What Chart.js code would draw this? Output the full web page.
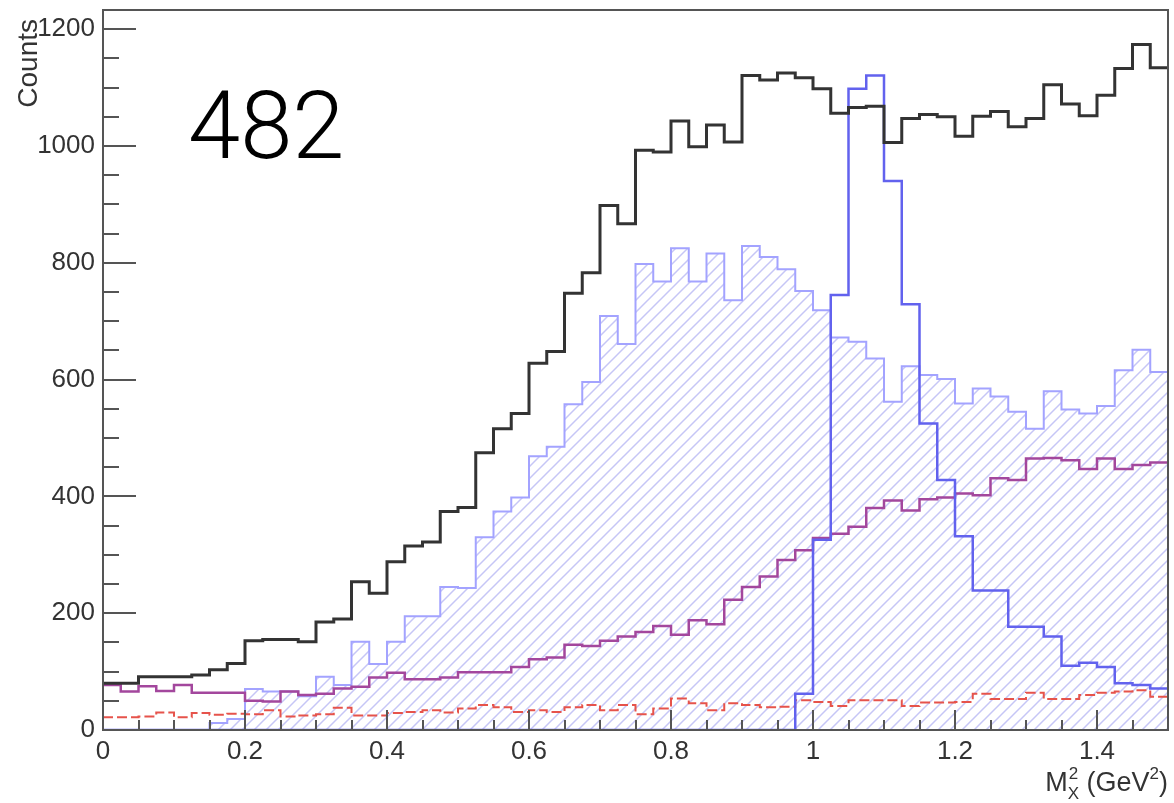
<!DOCTYPE html>
<html>
<head>
<meta charset="utf-8">
<script src="https://cdn.jsdelivr.net/npm/chart.js@4.4.0/dist/chart.umd.min.js"></script>
<style>
  html, body { margin: 0; padding: 0; background: #fff; }
</style>
</head>
<body>
<canvas id="hist" width="1174" height="803"></canvas>
<script>
// 60 bins of 0.025 GeV^2 from 0 to 1.5
const binWidth = 0.025;
const xMax = 1.5;
const yMax = 1233;
const xTicks = [0, 0.2, 0.4, 0.6, 0.8, 1.0, 1.2, 1.4];
const xTickLabels = ['0', '0.2', '0.4', '0.6', '0.8', '1', '1.2', '1.4'];
const yTicks = [0, 200, 400, 600, 800, 1000, 1200];

// measured spectrum (black)
const dataHist = [
  80, 80, 91, 91, 91, 94, 103, 114, 153, 155,
  155, 151, 185, 190, 254, 234, 288, 315, 322, 374,
  381, 475, 516, 542, 628, 648, 748, 783, 898, 867,
  993, 990, 1043, 999, 1036, 1007, 1121, 1113, 1125, 1117,
  1098, 1056, 1066, 1068, 1006, 1047, 1054, 1050, 1017, 1051,
  1059, 1033, 1047, 1105, 1072, 1052, 1087, 1133, 1174, 1134
];

// hatched light-blue histogram
const hatchHist = [
  0, 0, 0, 0, 0, 0, 12, 19, 70, 66,
  66, 58, 91, 77, 151, 113, 151, 195, 195, 245,
  243, 330, 374, 398, 469, 485, 558, 596, 709, 661,
  798, 768, 825, 768, 816, 736, 829, 810, 789, 752,
  719, 672, 665, 636, 562, 623, 608, 601, 559, 585,
  571, 545, 516, 580, 549, 542, 555, 616, 651, 613
];

// narrow peak (dark blue)
const peakHist = [
  0, 0, 0, 0, 0, 0, 0, 0, 0, 0,
  0, 0, 0, 0, 0, 0, 0, 0, 0, 0,
  0, 0, 0, 0, 0, 0, 0, 0, 0, 0,
  0, 0, 0, 0, 0, 0, 0, 0, 0, 62,
  326, 745, 1098, 1121, 940, 729, 525, 428, 332, 239,
  239, 177, 177, 160, 110, 115, 108, 80, 77, 71
];

// purple component
const purpleHist = [
  77, 66, 75, 67, 77, 64, 64, 64, 50, 49,
  66, 60, 62, 71, 74, 90, 98, 87, 87, 90,
  99, 99, 99, 108, 121, 124, 146, 144, 153, 160,
  168, 178, 163, 188, 181, 223, 245, 263, 291, 308,
  329, 336, 348, 380, 393, 376, 395, 398, 405, 402,
  431, 428, 465, 466, 462, 447, 465, 447, 454, 458
];

// red dashed component
const redHist = [
  22, 22, 23, 30, 22, 29, 26, 28, 27, 34,
  23, 25, 27, 38, 25, 25, 29, 31, 34, 30,
  37, 43, 39, 31, 34, 31, 39, 43, 34, 43,
  27, 37, 54, 46, 34, 46, 43, 39, 40, 51,
  48, 41, 51, 51, 51, 41, 47, 47, 48, 62,
  53, 53, 64, 53, 53, 60, 64, 66, 68, 57
];

// bin contents -> points at the lower bin edges, closed at xMax
function toSteps(values) {
  const pts = values.map((v, i) => ({ x: i * binWidth, y: v }));
  pts.push({ x: xMax, y: values[values.length - 1] });
  return pts;
}

// diagonal hatch like ROOT fill style 3004
function makeHatch() {
  const s = 12;
  const c = document.createElement('canvas');
  c.width = s; c.height = s;
  const g = c.getContext('2d');
  g.strokeStyle = '#c6c6f6';
  g.lineWidth = 1.5;
  g.beginPath();
  g.moveTo(0, s); g.lineTo(s, 0);
  g.moveTo(-2, 2); g.lineTo(2, -2);
  g.moveTo(s - 2, s + 2); g.lineTo(s + 2, s - 2);
  g.stroke();
  return g.createPattern(c, 'repeat');
}

const FONT = 'Liberation Sans, Arial, sans-serif';
const tickFont = { family: FONT, size: 26 };

const rootFrame = {
  id: 'rootFrame',
  afterDatasetsDraw(chart) {
    const { ctx, chartArea: a, scales: { x, y } } = chart;
    ctx.save();
    ctx.strokeStyle = '#555';
    ctx.lineWidth = 2;
    ctx.beginPath();
    for (let v = 0; v <= 1200; v += 50) {
      const py = Math.round(y.getPixelForValue(v));
      ctx.moveTo(a.left, py);
      ctx.lineTo(a.left + (v % 200 === 0 ? 33 : 16), py);
    }
    for (let k = 0; k <= 30; k++) {
      const px = Math.round(x.getPixelForValue(k * 0.05));
      ctx.moveTo(px, a.bottom);
      ctx.lineTo(px, a.bottom - (k % 4 === 0 ? 20 : 10));
    }
    ctx.stroke();
    ctx.strokeRect(a.left, a.top, a.right - a.left, a.bottom - a.top);

    // axis titles
    ctx.fillStyle = '#333';
    ctx.font = '28px ' + FONT;
    ctx.save();
    ctx.translate(29, 19);
    ctx.rotate(-Math.PI / 2);
    ctx.textAlign = 'right';
    ctx.textBaseline = 'middle';
    ctx.fillText('Counts', 0, 0);
    ctx.restore();

    // M_X^2 (GeV^2), right aligned to the frame
    const base = 791;
    const big = '27px ' + FONT;
    const small = '17px ' + FONT;
    ctx.textBaseline = 'alphabetic';
    ctx.textAlign = 'left';
    ctx.font = big;
    const wM = ctx.measureText('M').width;
    const wG = ctx.measureText(' (GeV').width;
    const wP = ctx.measureText(')').width;
    ctx.font = small;
    const w2 = ctx.measureText('2').width;
    const wX = ctx.measureText('X').width;
    const wSub = Math.max(w2, wX);
    let cx = a.right - (wM + wSub + wG + w2 + wP);
    ctx.font = big;
    ctx.fillText('M', cx, base); cx += wM;
    ctx.font = small;
    ctx.fillText('2', cx + 1, base - 12);
    ctx.fillText('X', cx, base + 8); cx += wSub;
    ctx.font = big;
    ctx.fillText(' (GeV', cx, base); cx += wG;
    ctx.font = small;
    ctx.fillText('2', cx, base - 12); cx += w2;
    ctx.font = big;
    ctx.fillText(')', cx, base);

    // run number
    ctx.fillStyle = '#000';
    ctx.font = '300 94px Roboto, ' + FONT;
    ctx.fillText('482', 188, 158);
    ctx.restore();
  }
};

const stepLine = (label, values, color, width, extra) => Object.assign({
  label,
  data: toSteps(values),
  borderColor: color,
  borderWidth: width,
  stepped: 'before',
  pointRadius: 0,
  fill: false
}, extra || {});

new Chart(document.getElementById('hist').getContext('2d'), {
  type: 'line',
  data: {
    datasets: [
      stepLine('Data', dataHist, '#333333', 3),
      stepLine('Peak', peakHist, '#6262ee', 2.5),
      stepLine('Purple', purpleHist, '#a3479d', 2.5),
      stepLine('Red', redHist, '#e6534b', 2, { borderDash: [10, 4] }),
      stepLine('Hatched', hatchHist, '#a3a3ff', 2, {
        fill: 'origin',
        backgroundColor: makeHatch()
      })
    ]
  },
  options: {
    responsive: false,
    animation: false,
    devicePixelRatio: 1,
    layout: { padding: { top: 10, right: 6, left: 0, bottom: 0 } },
    plugins: {
      legend: { display: false },
      tooltip: { enabled: false }
    },
    scales: {
      x: {
        type: 'linear',
        min: 0,
        max: xMax,
        afterBuildTicks: s => { s.ticks = xTicks.map(v => ({ value: v })); },
        afterFit: s => { s.height = 73; s.paddingLeft = 0; s.paddingRight = 0; },
        ticks: {
          autoSkip: false,
          maxRotation: 0,
          padding: 6,
          color: '#333',
          font: tickFont,
          callback: (v, i) => xTickLabels[i]
        },
        grid: { display: false, drawTicks: false },
        border: { display: false }
      },
      y: {
        min: 0,
        max: yMax,
        afterBuildTicks: s => { s.ticks = yTicks.map(v => ({ value: v })); },
        afterFit: s => { s.width = 103; s.paddingTop = 0; s.paddingBottom = 0; },
        ticks: {
          padding: 8,
          color: '#333',
          font: tickFont,
          callback: v => String(v)
        },
        grid: { display: false, drawTicks: false },
        border: { display: false }
      }
    }
  },
  plugins: [rootFrame]
});
</script>
</body>
</html>
